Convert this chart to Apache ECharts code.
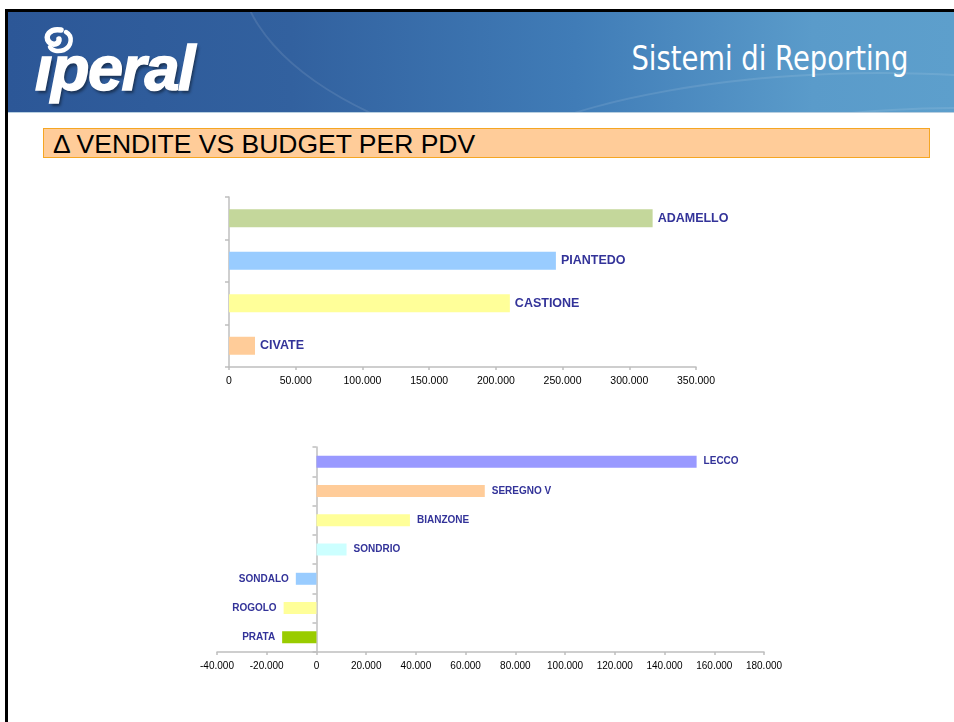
<!DOCTYPE html>
<html>
<head>
<meta charset="utf-8">
<title>Sistemi di Reporting</title>
<script src="https://cdn.jsdelivr.net/npm/echarts@6/dist/echarts.min.js"></script>
<style>
  html, body { margin: 0; padding: 0; background: #fff; }
  body { width: 954px; height: 722px; position: relative; overflow: hidden; }
  .frame-top { position: absolute; left: 5px; top: 9px; width: 949px; height: 3px; background: #000; }
  .frame-left { position: absolute; left: 5px; top: 9px; width: 3px; height: 713px; background: #000; }
  .header {
    position: absolute; left: 8px; top: 12px; width: 946px; height: 100px; overflow: hidden;
    background: linear-gradient(90deg, #2c5797 0%, #32619f 30%, #407cb7 60%, #5a9bca 85%, #5d9fcc 100%);
    border-bottom: 1px solid #b8cfe0;
  }
  .swoosh { position: absolute; border-radius: 50%; border: 2px solid rgba(255,255,255,0.10); }
  .logo { position: absolute; left: 27px; top: 13px; }
  .logo-text {
    position: absolute; left: 0; top: 6px;
    font-family: "Liberation Sans", Arial, sans-serif; font-weight: bold; font-style: italic;
    font-size: 63px; color: #fff; letter-spacing: -1.5px; line-height: 74px;
    -webkit-text-stroke: 1.5px #fff;
    text-shadow: 2px 3px 3px rgba(0,0,0,0.45);
  }
  .report {
    position: absolute; right: 46px; top: 25px; color: #fff;
    font-family: "DejaVu Sans", sans-serif; font-size: 33px; line-height: 44px;
    white-space: nowrap; transform-origin: right center;
  }
  .titlebar {
    position: absolute; left: 43px; top: 128px; width: 876px; height: 28px;
    background: #ffcc99; border: 1px solid #f5a623;
    font-family: "Liberation Sans", Arial, sans-serif; font-size: 26.5px; line-height: 30px;
    color: #000; padding-left: 9px; box-sizing: content-box; white-space: nowrap;
  }
  #chart { position: absolute; left: 0; top: 0; width: 954px; height: 722px; }
</style>
</head>
<body>
<div class="frame-top"></div>
<div class="frame-left"></div>
<div class="header">
  <div class="swoosh" style="left:230px; top:-260px; width:900px; height:420px;"></div>
  <div class="swoosh" style="left:420px; top:60px; width:900px; height:300px;"></div>
  <div class="swoosh" style="left:600px; top:95px; width:700px; height:200px;"></div>
  <div class="logo">
    <svg width="44" height="34" style="position:absolute; left:4px; top:0;">
      <path d="M22 5 C11 3 5 11 10 17 C14 21 21 19 20 14" fill="none" stroke="#fff" stroke-width="5.5" stroke-linecap="round"/>
      <path d="M27 7 C34 11 33 21 25 25 C19 27 13 26 11 22" fill="none" stroke="#fff" stroke-width="4.5" stroke-linecap="round"/>
    </svg>
    <div class="logo-text">&#305;peral</div>
  </div>
  <div class="report" id="report">Sistemi di Reporting</div>
</div>
<div class="titlebar">&Delta; VENDITE VS BUDGET PER PDV</div>
<div id="chart"></div>

<script>
// primo grafico: scostamento vendite vs budget (negozi grandi)
const storesTop = ['CIVATE', 'CASTIONE', 'PIANTEDO', 'ADAMELLO'];
const deltaTop = [19500, 210500, 245000, 317500];
const colorsTop = ['#ffcc99', '#ffff99', '#99ccff', '#c4d79b'];

// secondo grafico: negozi piccoli
const storesBottom = ['PRATA', 'ROGOLO', 'SONDALO', 'SONDRIO', 'BIANZONE', 'SEREGNO V', 'LECCO'];
const deltaBottom = [-13800, -13200, -8300, 12100, 37600, 67700, 152900];
const colorsBottom = ['#99cc00', '#ffff99', '#99ccff', '#ccffff', '#ffff99', '#ffcc99', '#9999ff'];

// limiti degli assi x
const axisTop = { min: 0, max: 350000, step: 50000 };
const axisBottom = { min: -40000, max: 180000, step: 20000 };

// fit the header text width
let rep = document.getElementById('report');
let w = rep.getBoundingClientRect().width;
rep.style.transform = 'scaleX(' + (277 / w) + ')';

function fmt(v) {
    let s = String(Math.abs(v)).replace(/\B(?=(\d{3})+(?!\d))/g, '.');
    return (v < 0 ? '-' : '') + s;
}

function items(values, colors, fontSize) {
    return values.map(function (v, i) {
        return {
            value: v,
            itemStyle: { color: colors[i] },
            label: { position: v < 0 ? 'left' : 'right', fontSize: fontSize }
        };
    });
}

let axisLineStyle = { color: '#bfbfbf', width: 1.5 };
let tickLabel = { color: '#000', fontSize: 10.5, fontFamily: 'Liberation Sans', formatter: fmt };

let chart = echarts.init(document.getElementById('chart'), null, { renderer: 'canvas' });
chart.setOption({
    animation: false,
    backgroundColor: 'transparent',
    grid: [
        { left: 229, right: 258, top: 197, bottom: 355 },
        { left: 217, right: 190, top: 447, bottom: 70 }
    ],
    xAxis: [
        {
            type: 'value', gridIndex: 0,
            min: axisTop.min, max: axisTop.max, interval: axisTop.step,
            splitLine: { show: false },
            axisLine: { show: true, lineStyle: axisLineStyle },
            axisTick: { show: true, length: 3, lineStyle: axisLineStyle },
            axisLabel: Object.assign({ margin: 9 }, tickLabel)
        },
        {
            type: 'value', gridIndex: 1,
            min: axisBottom.min, max: axisBottom.max, interval: axisBottom.step,
            splitLine: { show: false },
            axisLine: { show: true, lineStyle: axisLineStyle },
            axisTick: { show: true, length: 3, lineStyle: axisLineStyle },
            axisLabel: Object.assign({ margin: 9 }, tickLabel, { fontSize: 10 })
        }
    ],
    yAxis: [
        {
            type: 'category', gridIndex: 0, data: storesTop,
            axisLine: { show: true, lineStyle: axisLineStyle },
            axisTick: { show: true, length: 4, lineStyle: axisLineStyle },
            axisLabel: { show: false }
        },
        {
            type: 'category', gridIndex: 1, data: storesBottom,
            axisLine: { show: true, onZero: true, lineStyle: axisLineStyle },
            axisTick: { show: true, length: 4, lineStyle: axisLineStyle },
            axisLabel: { show: false }
        }
    ],
    series: [
        {
            type: 'bar', xAxisIndex: 0, yAxisIndex: 0,
            barWidth: 18,
            data: items(deltaTop, colorsTop, 12.5),
            label: {
                show: true, formatter: '{b}', distance: 5,
                color: '#333399', fontWeight: 'bold', fontFamily: 'Liberation Sans'
            }
        },
        {
            type: 'bar', xAxisIndex: 1, yAxisIndex: 1,
            barWidth: 12,
            data: items(deltaBottom, colorsBottom, 10),
            label: {
                show: true, formatter: '{b}', distance: 7,
                color: '#333399', fontWeight: 'bold', fontFamily: 'Liberation Sans'
            }
        }
    ]
});
</script>
</body>
</html>
